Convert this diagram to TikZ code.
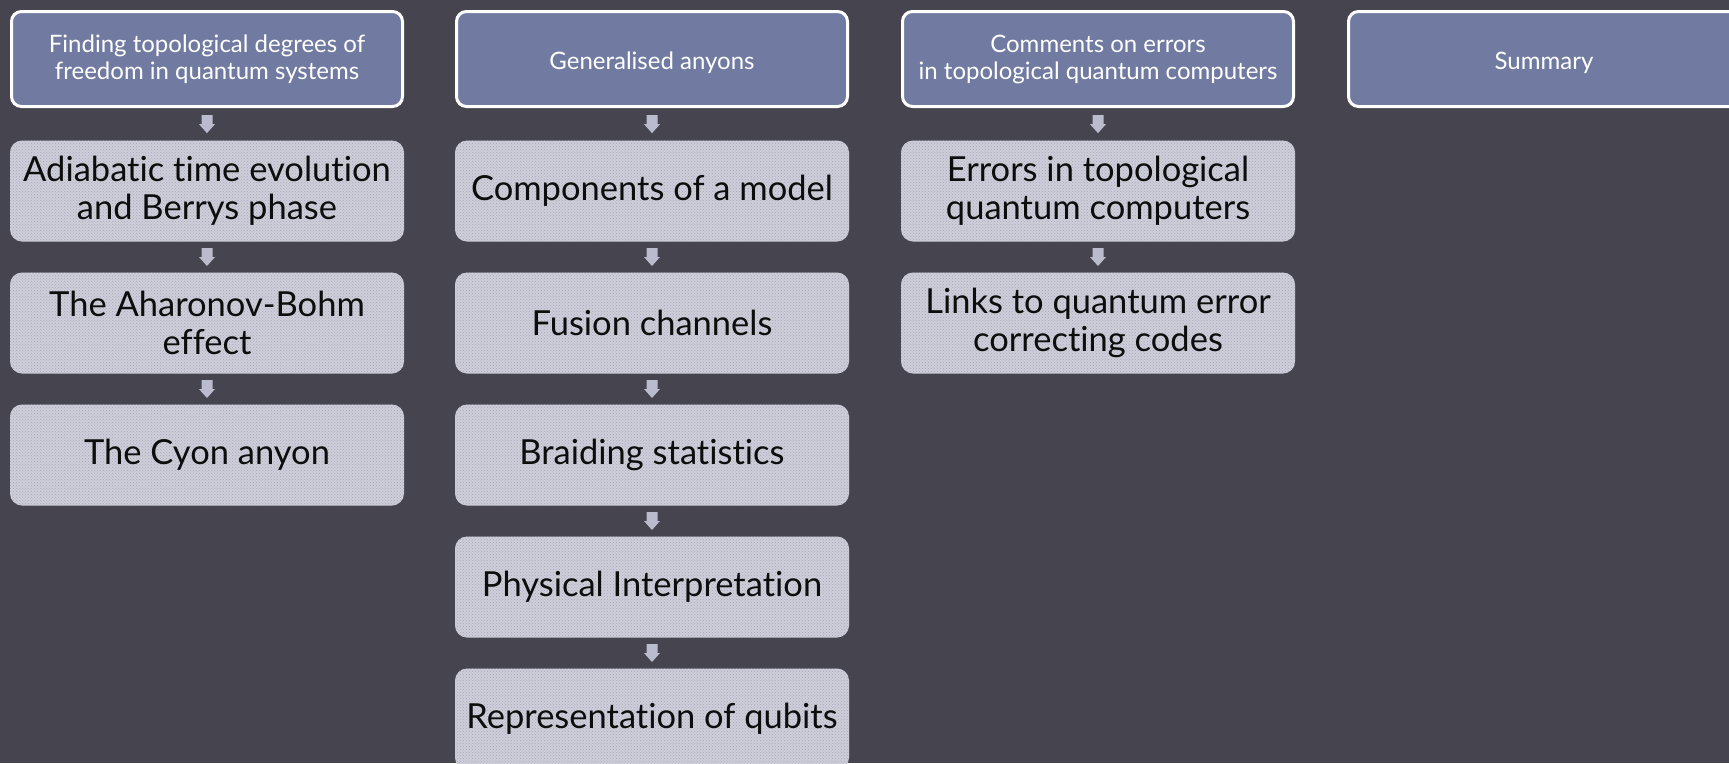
\documentclass[tikz,border=0pt]{standalone}
\usepackage{fontspec}
\setmainfont{Lato}[RawFeature={-liga}]
\usetikzlibrary{patterns}
\definecolor{bg}{HTML}{46454F}
\definecolor{hdr}{HTML}{717BA1}
\definecolor{itemfill}{HTML}{CDCED9}
\definecolor{itemdots}{HTML}{A9AABA}
\definecolor{arrowc}{HTML}{BABBCC}
\tikzset{
  header/.style={draw=white, line width=3pt, fill=hdr, rounded corners=10pt,
    minimum width=391pt, minimum height=95pt, inner sep=4pt, align=center,
    text=white, font=\fontsize{24}{27}\selectfont},
  item/.style={preaction={fill=itemfill}, pattern=crosshatch dots, pattern color=itemdots,
    rounded corners=12pt, minimum width=394pt, minimum height=101pt, inner sep=4pt,
    align=center, text=black!95, font=\fontsize{34.5}{38}\selectfont},
}
% one-line header text, set a little below the middle
\newcommand\oneline[1]{\smash{\raisebox{-10pt}{#1}}}
% small block arrow placed halfway between two stacked nodes
\newcommand\flowarrow[2]{%
  \path (#1.south) -- coordinate[midway] (mid) (#2.north);
  \fill[arrowc, shift={(mid)}] (-5.5,-9) -- (5.5,-9) -- (5.5,0) -- (8,0) -- (0,9) -- (-8,0) -- (-5.5,0) -- cycle;
}
\begin{document}
\begin{tikzpicture}[x=1pt, y=-1pt]
  \fill[bg] (0,0) rectangle (1729,763);
  \useasboundingbox (0,0) rectangle (1729,763);
  \clip (0,0) rectangle (1729,763);

  % column headers
  \node[header] (h1) at (207,59) {Finding topological degrees of\\freedom in quantum systems};
  \node[header] (h2) at (652,59) {\oneline{Generalised anyons}};
  \node[header] (h3) at (1098,59) {Comments on errors\\in topological quantum computers};
  \node[header] (h4) at (1544,59) {\oneline{Summary}};

  % first column
  \node[item] (a1) at (207,191) {Adiabatic time evolution\\and Berrys phase};
  \node[item] (a2) at (207,323) {The Aharonov-Bohm\\effect};
  \node[item] (a3) at (207,455) {The Cyon anyon};

  % second column
  \node[item] (b1) at (652,191) {Components of a model};
  \node[item] (b2) at (652,323) {Fusion channels};
  \node[item] (b3) at (652,455) {Braiding statistics};
  \node[item] (b4) at (652,587) {Physical Interpretation};
  \node[item] (b5) at (652,719) {Representation of qubits};

  % third column
  \node[item] (c1) at (1098,191) {Errors in topological\\quantum computers};
  \node[item] (c2) at (1098,323) {Links to quantum error\\correcting codes};

  % arrows
  \flowarrow{h1}{a1}
  \flowarrow{a1}{a2}
  \flowarrow{a2}{a3}
  \flowarrow{h2}{b1}
  \flowarrow{b1}{b2}
  \flowarrow{b2}{b3}
  \flowarrow{b3}{b4}
  \flowarrow{b4}{b5}
  \flowarrow{h3}{c1}
  \flowarrow{c1}{c2}
\end{tikzpicture}
\end{document}
